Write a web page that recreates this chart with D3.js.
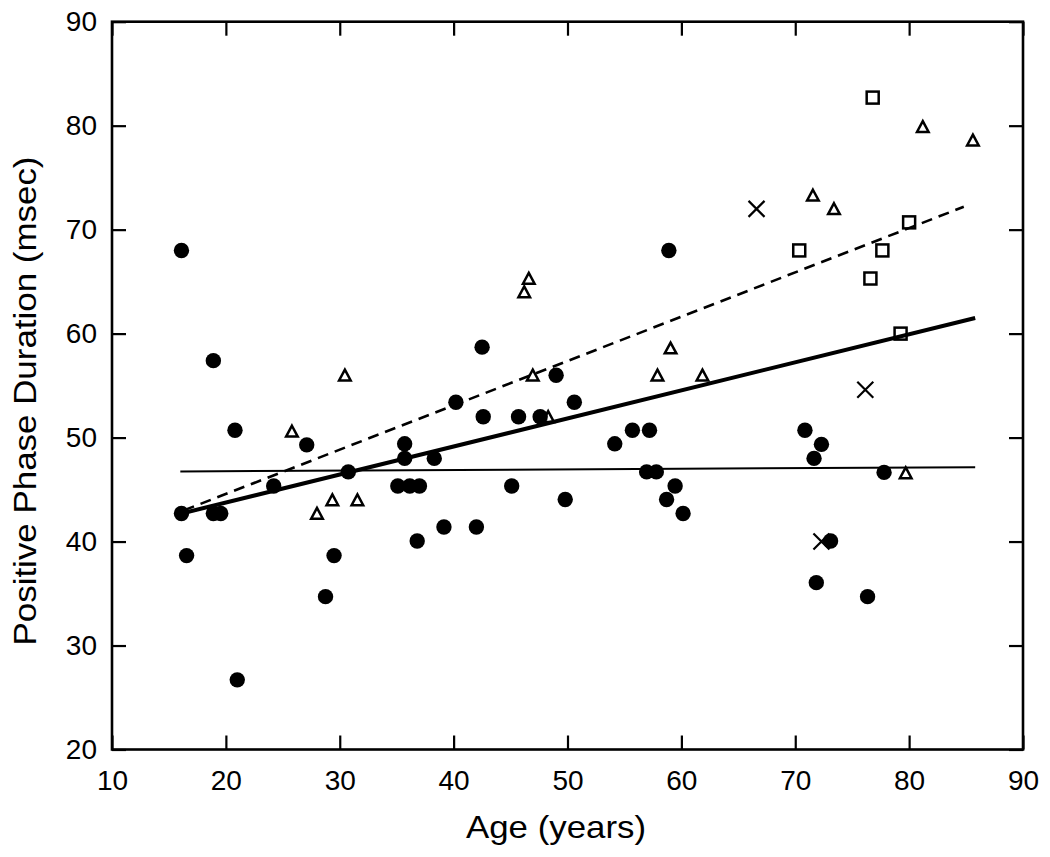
<!DOCTYPE html>
<html>
<head>
<meta charset="utf-8">
<script src="https://cdn.jsdelivr.net/npm/d3@7"></script>
<style>
  html, body { margin: 0; padding: 0; background: #fff; }
  svg { display: block; }
  text { font-family: "Liberation Sans", Arial, Helvetica, sans-serif; fill: #000; }
</style>
</head>
<body>
<svg id="chart" width="1050" height="857"></svg>
<script>
// ---- Data ----
const xTicks = [10, 20, 30, 40, 50, 60, 70, 80, 90];
const yTicks = [20, 30, 40, 50, 60, 70, 80, 90];

// filled circles: [age, duration]
const circles = [
  [16.1, 68.0], [18.9, 57.4], [20.8, 50.7], [27.1, 49.3], [35.7, 49.4], [35.7, 48.0],
  [38.3, 48.0], [24.2, 45.35], [30.75, 46.7], [35.1, 45.35], [36.15, 45.35], [37.0, 45.35],
  [16.1, 42.7], [18.9, 42.7], [19.55, 42.7], [36.8, 40.05], [16.55, 38.65], [29.5, 38.65],
  [28.75, 34.7], [21.0, 26.7], [58.9, 68.0], [42.5, 58.7], [49.0, 56.0], [40.2, 53.4],
  [50.6, 53.4], [42.6, 52.0], [45.7, 52.0], [47.6, 52.0], [55.7, 50.7], [57.2, 50.7],
  [54.15, 49.4], [56.95, 46.7], [57.8, 46.7], [45.1, 45.35], [59.45, 45.35], [49.8, 44.05],
  [58.7, 44.05], [60.15, 42.7], [39.15, 41.4], [42.0, 41.4], [70.85, 50.7], [72.3, 49.35],
  [71.65, 48.0], [77.8, 46.65], [73.1, 40.05], [71.85, 36.05], [76.35, 34.7]
];

// open triangles
const triangles = [
  [30.45, 56.0], [25.8, 50.6], [29.35, 44.0], [31.55, 44.0], [28.0, 42.7], [46.6, 65.3],
  [46.2, 64.0], [59.05, 58.6], [46.95, 56.0], [57.9, 56.0], [61.85, 56.0], [48.3, 52.0],
  [81.2, 79.9], [85.6, 78.6], [71.55, 73.3], [73.4, 72.0], [79.7, 46.6]
];

// open squares
const squares = [
  [76.8, 82.7], [80.0, 70.7], [70.35, 68.0], [77.65, 68.0], [76.6, 65.3], [79.25, 60.0]
];

// crosses
const crosses = [
  [66.6, 72.0], [76.15, 54.6], [72.3, 40.0]
];

// fitted lines (end points)
const lineAll = [[16.1, 42.7], [85.8, 61.5]];
const lineDashed = [[16.3, 43.0], [84.8, 72.2]];
const lineFlat = [[16.0, 46.75], [85.8, 47.15]];

// ---- Layout ----
const svg = d3.select("#chart");
const mLeft = 112, mRight = 1023, mTop = 21.7, mBottom = 749.5;

const x = d3.scaleLinear().domain([10, 90]).range([mLeft, mRight]);
const y = d3.scaleLinear().domain([20, 90]).range([mBottom, mTop]);

const TICK = 14;
const axisW = 2.6;

// Axes
const gB = svg.append("g").attr("transform", `translate(0,${mBottom})`)
  .call(d3.axisBottom(x).tickValues(xTicks).tickSizeInner(-TICK).tickSizeOuter(0).tickPadding(21));
const gL = svg.append("g").attr("transform", `translate(${mLeft},0)`)
  .call(d3.axisLeft(y).tickValues(yTicks).tickSizeInner(-TICK).tickSizeOuter(0).tickPadding(15));
const gT = svg.append("g").attr("transform", `translate(0,${mTop})`)
  .call(d3.axisTop(x).tickValues(xTicks).tickSizeInner(-TICK).tickSizeOuter(0).tickFormat(""));
const gR = svg.append("g").attr("transform", `translate(${mRight},0)`)
  .call(d3.axisRight(y).tickValues(yTicks).tickSizeInner(-TICK).tickSizeOuter(0).tickFormat(""));

[gB, gL, gT, gR].forEach(g => {
  g.select(".domain").remove();
  g.selectAll(".tick line").attr("stroke", "#000").attr("stroke-width", 2.2);
  g.selectAll(".tick text")
    .attr("font-family", '"Liberation Sans", Arial, Helvetica, sans-serif')
    .attr("font-size", 28).attr("fill", "#000");
});

// Frame
svg.append("rect")
  .attr("x", mLeft).attr("y", mTop)
  .attr("width", mRight - mLeft).attr("height", mBottom - mTop)
  .attr("fill", "none").attr("stroke", "#000").attr("stroke-width", axisW);

// Axis titles
svg.append("text")
  .attr("x", 556).attr("y", 838)
  .attr("text-anchor", "middle")
  .attr("font-size", 32)
  .attr("textLength", 180).attr("lengthAdjust", "spacingAndGlyphs")
  .text("Age (years)");

svg.append("text")
  .attr("transform", "translate(36,401) rotate(-90)")
  .attr("text-anchor", "middle")
  .attr("font-size", 32)
  .attr("textLength", 489).attr("lengthAdjust", "spacingAndGlyphs")
  .text("Positive Phase Duration (msec)");

// Lines
const lineGen = d3.line().x(d => x(d[0])).y(d => y(d[1]));
svg.append("path").attr("d", lineGen(lineFlat))
  .attr("fill", "none").attr("stroke", "#000").attr("stroke-width", 2);
svg.append("path").attr("d", lineGen(lineDashed))
  .attr("fill", "none").attr("stroke", "#000").attr("stroke-width", 2.6)
  .attr("stroke-dasharray", "11,7");
svg.append("path").attr("d", lineGen(lineAll))
  .attr("fill", "none").attr("stroke", "#000").attr("stroke-width", 4);

// Markers
svg.append("g").selectAll("circle").data(circles).join("circle")
  .attr("cx", d => x(d[0])).attr("cy", d => y(d[1])).attr("r", 7.7)
  .attr("fill", "#000");

svg.append("g").selectAll("path").data(triangles).join("path")
  .attr("transform", d => `translate(${x(d[0])},${y(d[1])})`)
  .attr("d", "M0,-5.6L5.8,5.2L-5.8,5.2Z")
  .attr("fill", "none").attr("stroke", "#000").attr("stroke-width", 2.5)
  .attr("stroke-linejoin", "miter");

svg.append("g").selectAll("rect").data(squares).join("rect")
  .attr("x", d => x(d[0]) - 6).attr("y", d => y(d[1]) - 6)
  .attr("width", 12).attr("height", 12)
  .attr("fill", "none").attr("stroke", "#000").attr("stroke-width", 2.5);

svg.append("g").selectAll("path").data(crosses).join("path")
  .attr("transform", d => `translate(${x(d[0])},${y(d[1])})`)
  .attr("d", "M-8,-8L8,8M-8,8L8,-8")
  .attr("fill", "none").attr("stroke", "#000").attr("stroke-width", 2.2);
</script>
</body>
</html>
